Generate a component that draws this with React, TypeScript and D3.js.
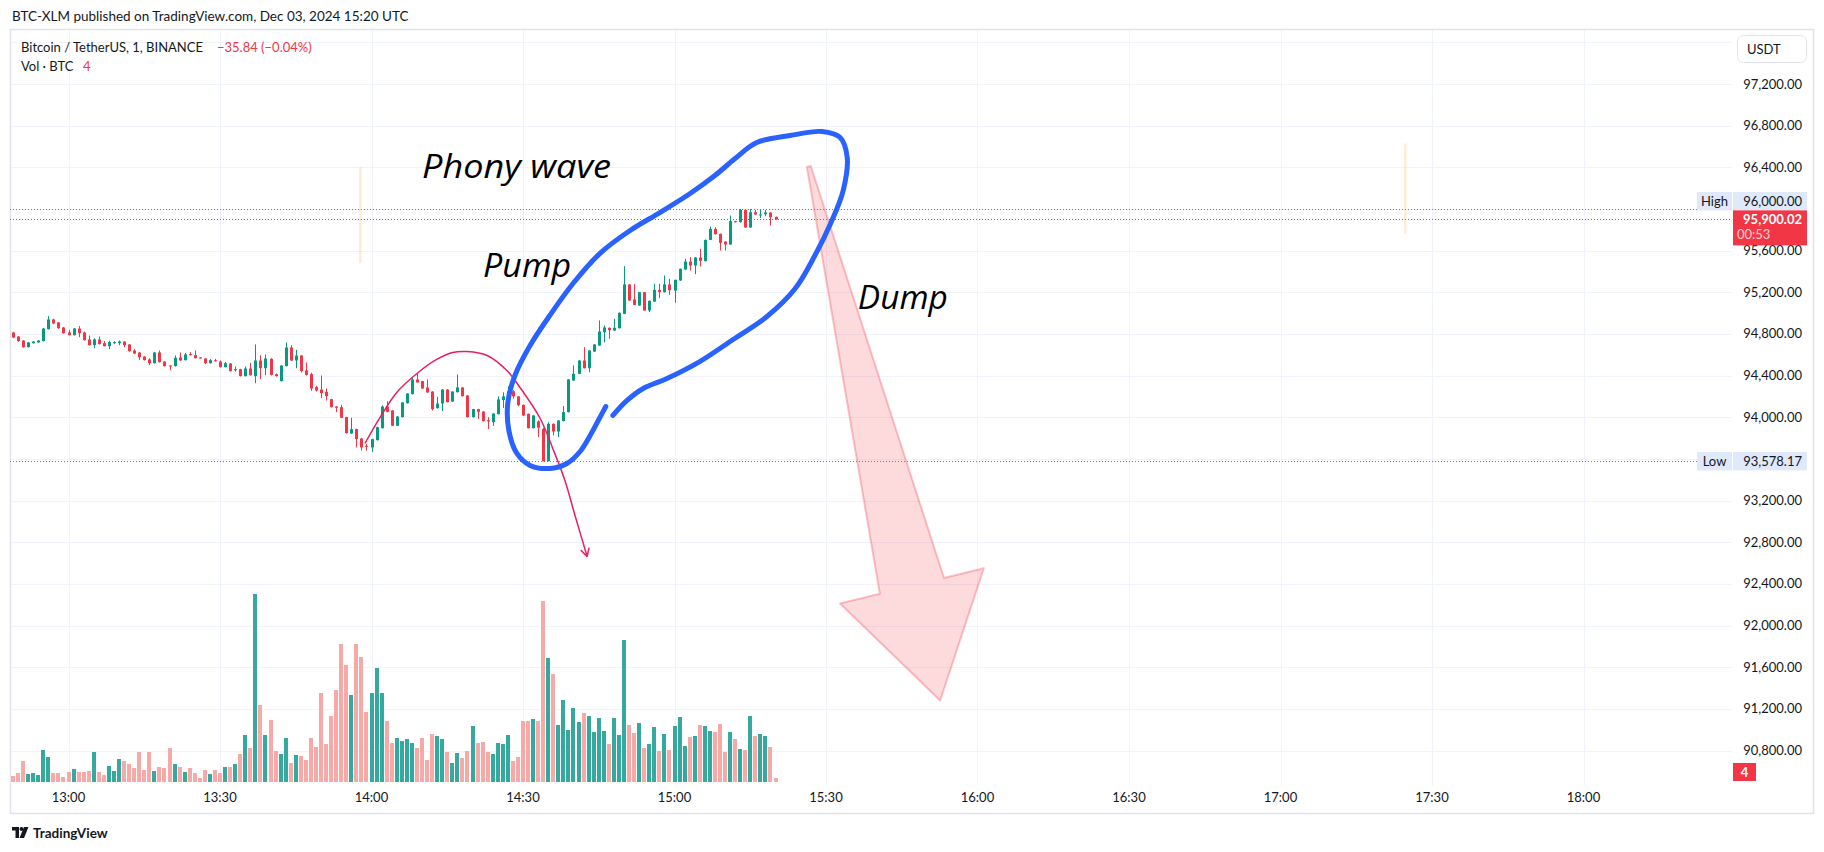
import React, { useEffect, useRef } from 'react';
import * as d3 from 'd3';

// 1-minute BTCUSDT candles, first bar at 12:49 (minutes counted from 13:00)
const firstMinute = -11;

const opens = [
  94814, 94775, 94737, 94673, 94711, 94718, 94731, 94846, 94939, 94910, 94862, 94814, 94788, 94852, 94814, 94747,
  94692, 94747, 94711, 94683, 94711, 94711, 94727, 94699, 94641, 94622, 94583, 94555, 94519, 94622, 94535, 94497,
  94491, 94574, 94548, 94606, 94596, 94574, 94564, 94519, 94548, 94535, 94481, 94516, 94452, 94462, 94395, 94468,
  94395, 94545, 94471, 94561, 94414, 94347, 94491, 94670, 94545, 94593, 94449, 94414, 94289, 94266, 94244, 94174,
  94103, 94097, 94001, 93844, 93886, 93796, 93726, 93710, 93780, 93895, 94103, 94065, 93918, 94001, 94135, 94222,
  94363, 94347, 94286, 94247, 94087, 94132, 94266, 94151, 94241, 94286, 94209, 94001, 94078, 94055, 93972, 93953,
  94030, 94165, 94190, 94250, 94200, 94119, 94033, 93895, 93960, 93889, 93578, 93937, 93863, 93963, 94049, 94353,
  94417, 94545, 94471, 94631, 94689, 94817, 94859, 94833, 94855, 94993, 95275, 95131, 95073, 95201, 95025, 95111,
  95223, 95201, 95275, 95217, 95313, 95419, 95495, 95457, 95534, 95499, 95703, 95809, 95761, 95687, 95659, 95883,
  95873, 95991, 95822, 95969, 95940, 95950, 95966, 95924,
];
const highs = [
  94820, 94780, 94740, 94722, 94730, 94740, 94856, 94971, 94945, 94914, 94866, 94839, 94856, 94875, 94823, 94785,
  94759, 94775, 94731, 94734, 94731, 94737, 94730, 94702, 94654, 94625, 94586, 94567, 94625, 94641, 94538, 94500,
  94593, 94622, 94619, 94625, 94641, 94577, 94567, 94558, 94561, 94545, 94532, 94519, 94487, 94465, 94487, 94523,
  94699, 94596, 94603, 94567, 94420, 94500, 94718, 94692, 94647, 94596, 94526, 94427, 94302, 94401, 94276, 94177,
  94106, 94119, 94004, 93995, 93889, 93799, 93745, 93793, 93908, 94113, 94154, 94068, 94010, 94145, 94231, 94379,
  94423, 94350, 94363, 94250, 94196, 94270, 94270, 94250, 94410, 94289, 94212, 94081, 94081, 94058, 94001, 94039,
  94199, 94240, 94298, 94260, 94205, 94122, 94036, 94020, 93970, 93900, 93953, 93940, 93972, 94107, 94366, 94497,
  94548, 94673, 94644, 94702, 94929, 94881, 94862, 94945, 95006, 95451, 95278, 95281, 95204, 95204, 95121, 95281,
  95281, 95361, 95329, 95322, 95428, 95521, 95537, 95537, 95617, 95706, 95831, 95825, 95764, 95690, 95937, 95886,
  96000, 96000, 96000, 95991, 95991, 95991, 95969, 95927,
];
const lows = [
  94760, 94725, 94668, 94670, 94708, 94715, 94728, 94843, 94897, 94850, 94803, 94785, 94785, 94769, 94737, 94690,
  94663, 94699, 94680, 94654, 94702, 94692, 94673, 94630, 94606, 94551, 94545, 94500, 94516, 94525, 94487, 94452,
  94487, 94542, 94545, 94593, 94564, 94564, 94510, 94516, 94535, 94478, 94478, 94440, 94439, 94392, 94392, 94400,
  94327, 94366, 94404, 94401, 94390, 94343, 94488, 94539, 94471, 94430, 94401, 94254, 94247, 94183, 94161, 94094,
  94049, 93992, 93844, 93841, 93710, 93681, 93681, 93668, 93777, 93892, 94046, 93915, 93915, 93998, 94132, 94219,
  94331, 94273, 94235, 94065, 94084, 94059, 94142, 94148, 94238, 94200, 93998, 93998, 93985, 93960, 93886, 93918,
  94027, 94090, 94185, 94180, 94105, 94014, 93892, 93892, 93810, 93578.17, 93578.17, 93825, 93809, 93960, 94046, 94350,
  94414, 94468, 94433, 94628, 94686, 94721, 94753, 94830, 94852, 94990, 95118, 95076, 95070, 95022, 95009, 95108,
  95143, 95198, 95175, 95099, 95310, 95416, 95409, 95374, 95447, 95496, 95700, 95755, 95601, 95601, 95656, 95870,
  95870, 95819, 95819, 95944, 95915, 95931, 95841, 95897,
];
const closes = [
  94766, 94731, 94673, 94718, 94727, 94737, 94852, 94939, 94900, 94855, 94807, 94788, 94852, 94807, 94740, 94692,
  94747, 94702, 94683, 94721, 94721, 94727, 94692, 94635, 94612, 94577, 94548, 94519, 94622, 94529, 94491, 94491,
  94571, 94545, 94603, 94596, 94567, 94567, 94519, 94548, 94538, 94481, 94519, 94443, 94462, 94395, 94468, 94404,
  94545, 94471, 94564, 94407, 94395, 94497, 94670, 94545, 94593, 94443, 94407, 94276, 94257, 94231, 94203, 94097,
  94091, 93995, 93847, 93886, 93790, 93710, 93719, 93790, 93905, 94103, 94052, 93918, 94007, 94142, 94228, 94363,
  94334, 94276, 94238, 94078, 94132, 94266, 94145, 94247, 94286, 94203, 94001, 94078, 94052, 93963, 93959, 94036,
  94171, 94200, 94250, 94200, 94115, 94017, 93895, 94017, 93900, 93578, 93937, 93863, 93969, 94049, 94363, 94417,
  94545, 94471, 94641, 94699, 94823, 94862, 94836, 94859, 95003, 95275, 95121, 95079, 95201, 95025, 95118, 95223,
  95201, 95275, 95220, 95319, 95425, 95495, 95457, 95534, 95502, 95703, 95809, 95758, 95675, 95659, 95883, 95873,
  95991, 95822, 95969, 95947, 95947, 95966, 95921, 95900.02,
];
const volumes = [
  6, 9, 21, 8, 9, 7, 32, 25, 9, 9, 5, 10, 13, 10, 10, 11, 30, 10, 7, 16, 11, 23, 21, 18, 14, 30, 12, 30, 11, 15, 14, 34,
  18, 15, 10, 14, 9, 4, 12, 8, 12, 9, 15, 15, 18, 28, 47, 34, 188, 77, 47, 62, 31, 28, 44, 19, 27, 26, 22, 44, 35, 89,
  38, 66, 92, 138, 117, 87, 138, 125, 70, 89, 114, 89, 61, 39, 44, 41, 43, 39, 34, 44, 22, 48, 46, 43, 30, 19, 29, 24,
  31, 56, 39, 40, 30, 28, 39, 38, 47, 21, 25, 61, 61, 63, 61, 181, 124, 108, 57, 82, 52, 74, 60, 69, 66, 50, 64, 51,
  38, 64, 47, 142, 57, 49, 59, 34, 38, 55, 31, 48, 32, 56, 65, 36, 45, 46, 57, 56, 51, 50, 58, 30, 50, 43, 33, 32, 66,
  46, 48, 46, 35, 4,
];

const timeTicks = ['13:00', '13:30', '14:00', '14:30', '15:00', '15:30', '16:00', '16:30', '17:00', '17:30', '18:00'];
const priceTicks = [97600, 97200, 96800, 96400, 96000, 95600, 95200, 94800, 94400, 94000, 93600, 93200, 92800, 92400, 92000, 91600, 91200, 90800];

const dayHigh = 96000;
const dayLow = 93578.17;
const lastPrice = 95900.02;
const lastVolume = 4;

// drawings, anchored as [minutes from 13:00, price]
const blueLoop: [number, number][] = [
  [106.4, 94103], [104.9, 93969], [103.3, 93825], [101.3, 93671], [98.7, 93556], [95.3, 93508], [91.4, 93537],
  [88.8, 93652], [87.2, 93873], [87.0, 94142], [88.4, 94401], [91.4, 94689], [95.3, 94977], [99.9, 95284],
  [105.2, 95572], [111.2, 95793], [117.1, 95966], [123.1, 96149], [128.0, 96321], [132.0, 96485], [136.3, 96638],
  [142.9, 96705], [149.2, 96744], [152.8, 96686], [154.2, 96494], [153.4, 96177], [151.0, 95870], [147.8, 95553],
  [143.9, 95236], [138.3, 94967], [131.6, 94747], [125.0, 94535], [118.5, 94372], [113.8, 94276], [110.6, 94161],
  [107.8, 94017],
];
const pinkArc: [number, number][] = [
  [58.7, 93748], [61.7, 93998], [65.0, 94238], [69.0, 94420], [72.9, 94555], [76.1, 94622], [78.9, 94631],
  [82.9, 94593], [86.8, 94449], [89.4, 94286], [93.4, 93988], [95.9, 93700], [98.3, 93393], [100.3, 93057],
  [102.7, 92663],
];
const dumpArrow: [number, number][] = [[146.6, 96408], [172.6, 91280]];
const markerLines: [number, number, number][] = [[57.8, 96401, 95479], [264.7, 96629, 95764]];
const notes = [
  { text: 'Phony wave', m: 70.0, p: 96302, w: 189 },
  { text: 'Pump', m: 82.1, p: 95342, w: 88 },
  { text: 'Dump', m: 156.3, p: 95035, w: 90 },
];

const UP = '#089981';
const DOWN = '#f23645';
const FONT = 'Lato, sans-serif';

const fmt = d3.format(',.2f');

export default function App() {
  const svgRef = useRef<SVGSVGElement>(null);

  useEffect(() => {
    if (!svgRef.current) return;
    const svg = d3.select(svgRef.current);
    svg.selectAll('*').remove();

    const pane = { left: 10, right: 1732, top: 29, bottom: 786 };
    const frame = { left: 10, right: 1813, top: 29, bottom: 813 };

    const x = d3.scaleLinear().domain([0, 300]).range([68.5, 1583.5]);
    const y = d3.scaleLinear().domain([90800, 97200]).range([750.5, 84]);
    const v = d3.scaleLinear().domain([0, 188]).range([782, 594]);

    svg.append('rect').attr('width', 1824).attr('height', 852).attr('fill', '#ffffff');

    svg.append('defs').append('clipPath').attr('id', 'pane')
      .append('rect')
      .attr('x', pane.left).attr('y', pane.top)
      .attr('width', pane.right - pane.left).attr('height', pane.bottom - pane.top);

    // grid
    const grid = svg.append('g').attr('stroke', '#f0f3fa').attr('stroke-width', 1);
    priceTicks.forEach(p => {
      const yy = Math.round(y(p)) + 0.5;
      grid.append('line').attr('x1', pane.left).attr('x2', pane.right).attr('y1', yy).attr('y2', yy);
    });
    timeTicks.forEach((_, i) => {
      const xx = Math.round(x(i * 30)) + 0.5;
      grid.append('line').attr('x1', xx).attr('x2', xx).attr('y1', pane.top).attr('y2', pane.bottom);
    });

    // frame
    svg.append('rect')
      .attr('x', frame.left + 0.5).attr('y', frame.top + 0.5)
      .attr('width', frame.right - frame.left).attr('height', frame.bottom - frame.top)
      .attr('fill', 'none').attr('stroke', '#e0e3eb').attr('stroke-width', 1.5);

    const plot = svg.append('g').attr('clip-path', 'url(#pane)');

    const bars = opens.map((o, i) => ({
      m: firstMinute + i, o, h: highs[i], l: lows[i], c: closes[i], vol: volumes[i], up: closes[i] >= o,
    }));

    // volume
    plot.append('g').selectAll('rect')
      .data(bars)
      .join('rect')
      .attr('x', d => Math.round(x(d.m)) - 2)
      .attr('y', d => v(d.vol))
      .attr('width', 4)
      .attr('height', d => v(0) - v(d.vol))
      .attr('fill', d => (d.up ? '#36a99e' : '#f7a9a7'));

    // candles
    const cg = plot.append('g');
    cg.selectAll('line')
      .data(bars)
      .join('line')
      .attr('x1', d => Math.round(x(d.m)) + 0.5)
      .attr('x2', d => Math.round(x(d.m)) + 0.5)
      .attr('y1', d => y(d.h))
      .attr('y2', d => y(d.l))
      .attr('stroke', d => (d.up ? UP : DOWN))
      .attr('stroke-width', 1);
    cg.selectAll('rect')
      .data(bars)
      .join('rect')
      .attr('x', d => Math.round(x(d.m)) - 1)
      .attr('y', d => y(Math.max(d.o, d.c)))
      .attr('width', 3)
      .attr('height', d => Math.max(1, Math.abs(y(d.o) - y(d.c))))
      .attr('fill', d => (d.up ? UP : DOWN));

    // high / low / last price lines
    const dotted = (p: number, color: string) => {
      const yy = Math.round(y(p)) + 0.5;
      svg.append('line')
        .attr('x1', pane.left).attr('x2', pane.right).attr('y1', yy).attr('y2', yy)
        .attr('stroke', color).attr('stroke-width', 1).attr('stroke-dasharray', '1 2');
    };
    dotted(dayHigh, '#787b86');
    dotted(dayLow, '#787b86');
    dotted(lastPrice, DOWN);

    // drawings
    const draw = svg.append('g').attr('clip-path', 'url(#pane)');

    markerLines.forEach(([m, p1, p2]) => {
      draw.append('line')
        .attr('x1', x(m)).attr('x2', x(m)).attr('y1', y(p1)).attr('y2', y(p2))
        .attr('stroke', 'rgba(255,152,0,0.18)').attr('stroke-width', 2.5);
    });

    // dump arrow
    const S = [x(dumpArrow[0][0]), y(dumpArrow[0][1])];
    const T = [x(dumpArrow[1][0]), y(dumpArrow[1][1])];
    const len = Math.hypot(T[0] - S[0], T[1] - S[1]);
    const u = [(T[0] - S[0]) / len, (T[1] - S[1]) / len];
    const n = [-u[1], u[0]];
    const headLen = 118;
    const B = [T[0] - u[0] * headLen, T[1] - u[1] * headLen];
    const pt = (base: number[], k: number) => [base[0] + n[0] * k, base[1] + n[1] * k];
    const arrowPts = [pt(S, 2), pt(B, 33), pt(B, 74), T, pt(B, -74), pt(B, -33), pt(S, -2)];
    draw.append('path')
      .attr('d', 'M' + arrowPts.map(p => p.join(',')).join('L') + 'Z')
      .attr('fill', 'rgba(242,54,69,0.18)')
      .attr('stroke', 'rgba(242,54,69,0.3)')
      .attr('stroke-width', 2)
      .attr('stroke-linejoin', 'round');

    // pink arc with arrowhead
    const arcLine = d3.line<[number, number]>()
      .x(d => x(d[0])).y(d => y(d[1]))
      .curve(d3.curveCatmullRom.alpha(0.5));
    draw.append('path')
      .attr('d', arcLine(pinkArc))
      .attr('fill', 'none').attr('stroke', '#e91e63').attr('stroke-width', 1.5);
    const a1 = pinkArc[pinkArc.length - 2];
    const a2 = pinkArc[pinkArc.length - 1];
    const tip = [x(a2[0]), y(a2[1])];
    const ang = Math.atan2(tip[1] - y(a1[1]), tip[0] - x(a1[0]));
    [-0.5, 0.5].forEach(da => {
      draw.append('line')
        .attr('x1', tip[0]).attr('y1', tip[1])
        .attr('x2', tip[0] - 9 * Math.cos(ang + da)).attr('y2', tip[1] - 9 * Math.sin(ang + da))
        .attr('stroke', '#e91e63').attr('stroke-width', 1.5);
    });

    // blue loop
    draw.append('path')
      .attr('d', arcLine(blueLoop))
      .attr('fill', 'none').attr('stroke', '#2962ff').attr('stroke-width', 5)
      .attr('stroke-linecap', 'round').attr('stroke-linejoin', 'round');

    notes.forEach(t => {
      draw.append('text')
        .attr('x', x(t.m)).attr('y', y(t.p))
        .attr('font-family', '"Open Sans", sans-serif').attr('font-style', 'italic')
        .attr('font-size', 33).attr('fill', '#000')
        .attr('textLength', t.w).attr('lengthAdjust', 'spacingAndGlyphs')
        .text(t.text);
    });

    // top texts
    svg.append('text').attr('x', 12).attr('y', 21).attr('font-family', FONT).attr('font-size', 13.5)
      .attr('fill', '#131722').text('BTC-XLM published on TradingView.com, Dec 03, 2024 15:20 UTC');
    svg.append('text').attr('x', 21).attr('y', 52).attr('font-family', FONT).attr('font-size', 13)
      .attr('fill', '#131722').text('Bitcoin / TetherUS, 1, BINANCE');
    svg.append('text').attr('x', 217).attr('y', 52).attr('font-family', FONT).attr('font-size', 13)
      .attr('fill', DOWN).text('\u221235.84 (\u22120.04%)');
    svg.append('text').attr('x', 21).attr('y', 70.5).attr('font-family', FONT).attr('font-size', 13)
      .attr('fill', '#131722').text('Vol \u00b7 BTC');
    svg.append('text').attr('x', 83).attr('y', 70.5).attr('font-family', FONT).attr('font-size', 13)
      .attr('fill', DOWN).text(String(lastVolume));

    // price axis
    const axisX = 1733;
    const boxW = 74;
    const lastY = y(lastPrice);
    const redTop = lastY - 9;
    const highCy = redTop - 9.25;
    const lowCy = y(dayLow);
    const blocked = [highCy, lastY + 8, lowCy];

    svg.append('rect').attr('x', 1737.5).attr('y', 35.5).attr('width', 69).attr('height', 27).attr('rx', 6)
      .attr('fill', '#fff').attr('stroke', '#e0e3eb');
    svg.append('text').attr('x', 1747).attr('y', 54).attr('font-family', FONT).attr('font-size', 13)
      .attr('fill', '#131722').text('USDT');

    priceTicks.filter(p => p < 97500).forEach(p => {
      const yy = y(p);
      if (blocked.some(b => Math.abs(b - yy) < 16)) return;
      svg.append('text').attr('x', 1802).attr('y', yy + 4.5).attr('text-anchor', 'end')
        .attr('font-family', FONT).attr('font-size', 13).attr('fill', '#131722').text(fmt(p));
    });

    const tagBox = (label: string, price: number, cy: number) => {
      svg.append('rect').attr('x', 1697).attr('y', cy - 9.25).attr('width', 35).attr('height', 18.5).attr('fill', '#dfe9f9');
      svg.append('text').attr('x', 1714.5).attr('y', cy + 4.5).attr('text-anchor', 'middle')
        .attr('font-family', FONT).attr('font-size', 13).attr('fill', '#131722').text(label);
      svg.append('rect').attr('x', axisX).attr('y', cy - 9.25).attr('width', boxW).attr('height', 18.5).attr('fill', '#dfe9f9');
      svg.append('text').attr('x', 1802).attr('y', cy + 4.5).attr('text-anchor', 'end')
        .attr('font-family', FONT).attr('font-size', 13).attr('fill', '#131722').text(fmt(price));
    };
    tagBox('High', dayHigh, highCy);
    tagBox('Low', dayLow, lowCy);

    svg.append('rect').attr('x', axisX).attr('y', redTop).attr('width', boxW).attr('height', 35).attr('fill', DOWN);
    svg.append('text').attr('x', 1802).attr('y', lastY + 4.5).attr('text-anchor', 'end')
      .attr('font-family', FONT).attr('font-size', 13).attr('font-weight', 700).attr('fill', '#fff').text(fmt(lastPrice));
    svg.append('text').attr('x', 1737).attr('y', lastY + 19.5)
      .attr('font-family', FONT).attr('font-size', 13).attr('fill', '#fcd0d4').text('00:53');

    const vy = Math.min(v(lastVolume), 772);
    svg.append('rect').attr('x', axisX).attr('y', vy - 9).attr('width', 23).attr('height', 18).attr('fill', DOWN);
    svg.append('text').attr('x', axisX + 11.5).attr('y', vy + 4.5).attr('text-anchor', 'middle')
      .attr('font-family', FONT).attr('font-size', 13).attr('font-weight', 700).attr('fill', '#fff').text(String(lastVolume));

    // time axis
    timeTicks.forEach((t, i) => {
      svg.append('text').attr('x', x(i * 30)).attr('y', 801.5).attr('text-anchor', 'middle')
        .attr('font-family', FONT).attr('font-size', 13).attr('fill', '#131722').text(t);
    });

    // footer
    const logo = svg.append('g').attr('transform', 'translate(12,827)').attr('fill', '#131722');
    logo.append('path').attr('d', 'M0 0H7V11H3.5V3.5H0Z');
    logo.append('circle').attr('cx', 9.5).attr('cy', 2).attr('r', 2);
    logo.append('path').attr('d', 'M12 0H16.5L12 11H7.5Z');
    svg.append('text').attr('x', 33).attr('y', 838).attr('font-family', FONT).attr('font-size', 13.5)
      .attr('font-weight', 700).attr('fill', '#131722').text('TradingView');
  }, []);

  return (
    <svg
      ref={svgRef}
      width={1824}
      height={852}
      style={{ position: 'absolute', left: 0, top: 0, display: 'block' }}
    />
  );
}
